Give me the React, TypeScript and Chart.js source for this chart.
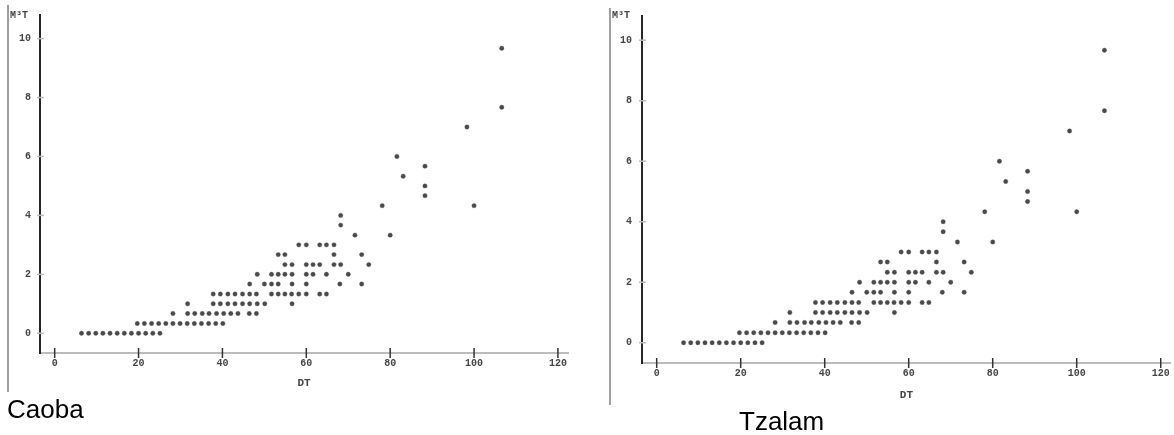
import React, { useEffect, useRef } from "react";
import { Chart, registerables } from "chart.js";

Chart.register(...registerables);

// ---- Axis ticks ----
const xTicks = [0, 20, 40, 60, 80, 100, 120];
const yTicks = [0, 2, 4, 6, 8, 10];
const xMin = -3.5;
const xMax = 122.4;
const yMin = -0.67;
const yMax = 10.8;

// ---- Data: M³T levels and the DT values observed at each level ----
const m3tLevels = [0, 0.33, 0.67, 1, 1.33, 1.67, 2, 2.33, 2.67, 3, 3.33, 3.67, 4, 4.33, 4.67, 5, 5.33, 5.67, 6, 7, 7.67, 9.67];
const dtByLevel = [
  [6.4, 8.1, 9.8, 11.5, 13.2, 14.9, 16.6, 18.3, 20.0, 21.7, 23.4, 25.1],
  [19.7, 21.4, 23.1, 24.8, 26.5, 28.2, 29.9, 31.6, 33.3, 35.0, 36.7, 38.4, 40.1],
  [28.2, 31.7, 33.4, 35.2, 36.8, 38.6, 40.3, 42.0, 43.7, 46.4, 48.1],
  [31.7, 37.8, 39.5, 41.3, 43.0, 44.8, 46.5, 48.3, 50.1, 56.6],
  [37.8, 39.5, 41.3, 43.0, 44.8, 46.5, 48.1, 51.7, 53.3, 54.9, 56.5, 58.2, 60.0, 63.2, 64.8],
  [46.5, 50.0, 51.7, 53.3, 56.6, 60.0, 68.0, 73.2],
  [48.3, 51.7, 53.3, 54.9, 56.6, 60.0, 61.6, 64.8, 70.0],
  [54.9, 56.6, 60.0, 61.6, 63.2, 66.6, 68.2, 74.9],
  [53.3, 54.9, 66.6, 73.2],
  [58.2, 60.0, 63.2, 64.8, 66.6],
  [71.6, 80.0],
  [68.2],
  [68.2],
  [78.1, 100.0],
  [88.3],
  [88.3],
  [83.1],
  [88.3],
  [81.6],
  [98.3],
  [106.6],
  [106.6],
];

const captions = ["Caoba", "Tzalam"];
const xTitle = "DT";
const yTitle = "M³T";

const tickFont = { family: "'Liberation Mono', 'DejaVu Sans Mono', monospace", size: 10, weight: "bold" as const };
const titleFont = { family: "'Liberation Mono', 'DejaVu Sans Mono', monospace", size: 11, weight: "bold" as const };
const textColor = "#454545";

const tickMarks = {
  id: "tickMarks",
  afterDraw(chart: any) {
    const { ctx, chartArea, scales } = chart;
    ctx.save();
    ctx.lineWidth = 1.5;
    ctx.strokeStyle = "#333";
    scales.x.ticks.forEach((t: any) => {
      const px = scales.x.getPixelForValue(t.value);
      ctx.beginPath();
      ctx.moveTo(px, chartArea.bottom - 5);
      ctx.lineTo(px, chartArea.bottom + 5);
      ctx.stroke();
    });
    ctx.strokeStyle = "#bdbdbd";
    scales.y.ticks.forEach((t: any) => {
      const py = scales.y.getPixelForValue(t.value);
      ctx.beginPath();
      ctx.moveTo(chartArea.left - 3, py);
      ctx.lineTo(chartArea.left + 4, py);
      ctx.stroke();
    });
    ctx.restore();
  },
};

type Panel = {
  left: number;
  top: number;
  width: number;
  height: number;
  area: { left: number; top: number; right: number; bottom: number };
  yLabelPad: number;
  xLabelPad: number;
  titlePad: number;
};

function ScatterPanel({ p }: { p: Panel }) {
  const ref = useRef<HTMLCanvasElement | null>(null);
  useEffect(() => {
    if (!ref.current) return;
    const points: { x: number; y: number }[] = [];
    m3tLevels.forEach((lvl, i) => {
      dtByLevel[i].forEach((dt) => points.push({ x: dt, y: lvl }));
    });
    const chart = new Chart(ref.current, {
      type: "scatter",
      data: {
        datasets: [
          {
            data: points,
            pointRadius: 2.2,
            pointHoverRadius: 2.2,
            pointBackgroundColor: "#4a4a4a",
            pointBorderColor: "rgba(90,90,90,0.35)",
            pointBorderWidth: 1,
          },
        ],
      },
      options: {
        responsive: false,
        animation: false,
        devicePixelRatio: 1,
        events: [],
        layout: { padding: { left: 0, top: p.area.top, right: p.width - p.area.right, bottom: 0 } },
        plugins: { legend: { display: false }, tooltip: { enabled: false }, title: { display: false } },
        scales: {
          x: {
            type: "linear",
            min: xMin,
            max: xMax,
            afterFit: (s: any) => {
              s.height = p.height - p.area.bottom;
            },
            afterBuildTicks: (s: any) => {
              s.ticks = xTicks.map((v) => ({ value: v }));
            },
            grid: { display: false, drawTicks: false },
            border: { display: true, color: "#bcbcbc", width: 2 },
            ticks: { padding: p.xLabelPad, font: tickFont, color: textColor, maxRotation: 0, autoSkip: false },
            title: { display: true, text: xTitle, font: titleFont, color: textColor, padding: { top: 0, bottom: p.titlePad } },
          },
          y: {
            type: "linear",
            min: yMin,
            max: yMax,
            afterFit: (s: any) => {
              s.width = p.area.left;
            },
            afterBuildTicks: (s: any) => {
              s.ticks = yTicks.map((v) => ({ value: v }));
            },
            grid: { display: false, drawTicks: false },
            border: { display: true, color: "#262626", width: 2 },
            ticks: { padding: p.yLabelPad, font: tickFont, color: textColor, autoSkip: false },
          },
        },
      },
      plugins: [tickMarks],
    } as any);
    return () => chart.destroy();
  }, []);
  return (
    <canvas
      ref={ref}
      width={p.width}
      height={p.height}
      style={{ position: "absolute", left: p.left, top: p.top, width: p.width, height: p.height }}
    />
  );
}

const panels: Panel[] = [
  { left: 10, top: 0, width: 580, height: 395, area: { left: 30, top: 12, right: 558, bottom: 353 }, yLabelPad: 9, xLabelPad: 4, titlePad: 5 },
  { left: 612, top: 0, width: 562, height: 410, area: { left: 30, top: 10, right: 561, bottom: 363 }, yLabelPad: 10, xLabelPad: 4, titlePad: 8 },
];

export default function App() {
  const capStyle: React.CSSProperties = {
    position: "absolute",
    fontFamily: "'Liberation Sans', Arial, sans-serif",
    fontSize: 26,
    lineHeight: "26px",
    color: "#000",
    whiteSpace: "nowrap",
  };
  const yTitleStyle: React.CSSProperties = {
    position: "absolute",
    fontFamily: "'Liberation Mono', 'DejaVu Sans Mono', monospace",
    fontWeight: "bold",
    fontSize: 10,
    lineHeight: "10px",
    color: textColor,
    whiteSpace: "nowrap",
  };
  return (
    <div style={{ position: "absolute", left: 0, top: 0, width: 1174, height: 435, overflow: "hidden", background: "#fff" }}>
      <div style={{ position: "absolute", left: 7, top: 5, width: 2, height: 387, background: "#a0a0a0" }} />
      <div style={{ position: "absolute", left: 609, top: 8, width: 2, height: 397, background: "#a0a0a0" }} />
      <ScatterPanel p={panels[0]} />
      <ScatterPanel p={panels[1]} />
      <div style={{ ...yTitleStyle, left: 10, top: 11 }}>{yTitle}</div>
      <div style={{ ...yTitleStyle, left: 612, top: 11 }}>{yTitle}</div>
      <div style={{ ...capStyle, left: 7, top: 396 }}>{captions[0]}</div>
      <div style={{ ...capStyle, left: 739, top: 408 }}>{captions[1]}</div>
    </div>
  );
}
